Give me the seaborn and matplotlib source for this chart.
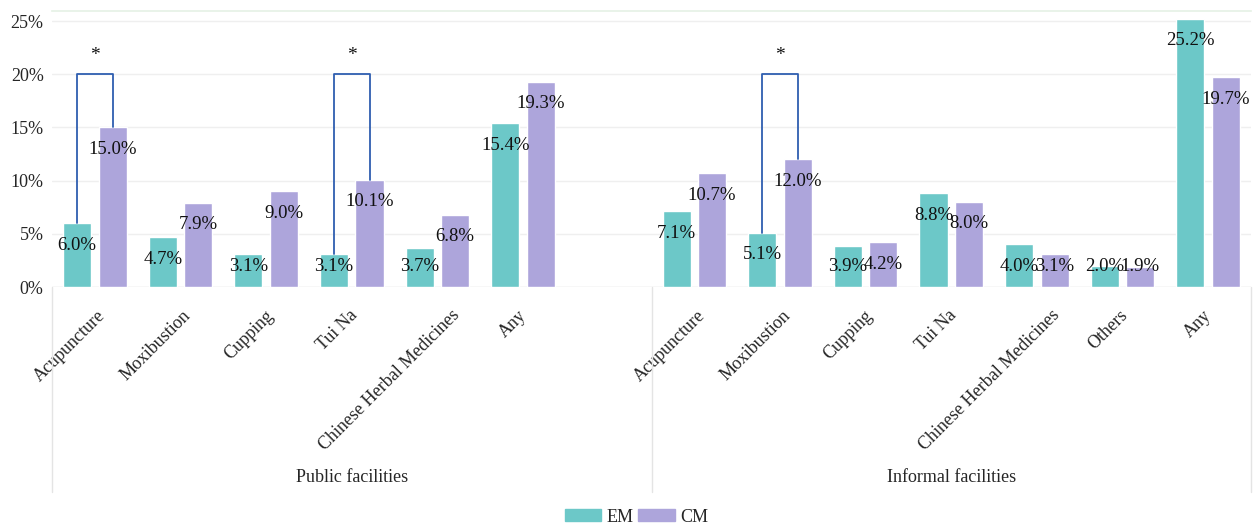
import matplotlib
matplotlib.use("Agg")
import matplotlib.pyplot as plt
import matplotlib.transforms as mtransforms
from matplotlib.patches import Patch
from matplotlib.lines import Line2D
import seaborn as sns
import pandas as pd

# ---- data ----
public_cats = ["Acupuncture", "Moxibustion", "Cupping", "Tui Na", "Chinese Herbal Medicines", "Any"]
public_em = [6.0, 4.7, 3.1, 3.1, 3.7, 15.4]
public_cm = [15.0, 7.9, 9.0, 10.1, 6.8, 19.3]
informal_cats = ["Acupuncture", "Moxibustion", "Cupping", "Tui Na", "Chinese Herbal Medicines", "Others", "Any"]
informal_em = [7.1, 5.1, 3.9, 8.8, 4.0, 2.0, 25.2]
informal_cm = [10.7, 12.0, 4.2, 8.0, 3.1, 1.9, 19.7]
group_labels = ["Public facilities", "Informal facilities"]
series_names = ["EM", "CM"]
# significant differences (group, category index)
significant = [("Public", 0), ("Public", 3), ("Informal", 1)]
bracket_level = 20.0

EM_COLOR = "#6cc8c8"
CM_COLOR = "#ada5db"
BRACKET_COLOR = "#2f5eb0"
FONT = ["Liberation Serif", "DejaVu Serif"]

sns.set_theme(style="white")
plt.rcParams["font.family"] = FONT
plt.rcParams["font.size"] = 13

rows = []
pub_keys = [f"Public|{c}" for c in public_cats]
inf_keys = [f"Informal|{c}" for c in informal_cats]
for k, e, c in zip(pub_keys, public_em, public_cm):
    rows.append((k, "EM", e)); rows.append((k, "CM", c))
for k, e, c in zip(inf_keys, informal_em, informal_cm):
    rows.append((k, "EM", e)); rows.append((k, "CM", c))
df = pd.DataFrame(rows, columns=["slot", "series", "value"])
order = pub_keys + ["gap"] + inf_keys
tick_labels = public_cats + [""] + informal_cats

fig = plt.figure(figsize=(12.55, 5.29), dpi=100)
ax = fig.add_axes([52 / 1255, 1 - 287 / 529, (1251 - 52) / 1255, 276 / 529])

sns.barplot(data=df, x="slot", y="value", hue="series", order=order,
            hue_order=series_names, palette=[EM_COLOR, CM_COLOR],
            width=0.83, gap=0.21, saturation=1, ax=ax, legend=False)

ax.set_xlim(-0.5, len(order) - 0.5)
ax.set_ylim(0, 25.94)
ax.set_yticks([0, 5, 10, 15, 20, 25])
ax.set_yticklabels([f"{t}%" for t in [0, 5, 10, 15, 20, 25]], fontsize=13)
ax.set_xlabel(""); ax.set_ylabel("")
ax.set_xticks(range(len(order)))
ax.set_xticklabels([""] * len(order))
ax.tick_params(axis="both", length=0, pad=6)
ax.yaxis.grid(True, color="#efefef", lw=1)
ax.set_axisbelow(True)
for s in ["left", "right", "bottom"]:
    ax.spines[s].set_visible(False)
ax.spines["top"].set_color("#e6f2e6")
ax.axhline(0, color="#e6e6e6", lw=1, zorder=0.5)

# rotated category labels (Excel-like placement: longer labels sit further right)
renderer = fig.canvas.get_renderer()
xtrans = mtransforms.blended_transform_factory(ax.transData, ax.transAxes)
for i, lab in enumerate(tick_labels):
    if not lab:
        continue
    t = ax.text(0, 0, lab, fontsize=13)
    w = t.get_window_extent(renderer).width
    t.remove()
    dx = 0.12 * w - 3
    off = mtransforms.ScaledTranslation(dx / 100, -26 / 100, fig.dpi_scale_trans)
    ax.text(i, 0, lab, transform=xtrans + off, rotation=45, ha="right",
            va="center", rotation_mode="anchor", fontsize=13, clip_on=False)

# value labels
bar_pos = {}
for ser, cont in zip(series_names, ax.containers):
    bars = sorted(cont.patches, key=lambda b: b.get_x())
    keys = [k for k in order if k != "gap"]
    for key, bar in zip(keys, bars):
        x = bar.get_x() + bar.get_width() / 2
        h = bar.get_height()
        bar_pos[(key, ser)] = (x, h)
        ax.text(x, max(h - 2.07, 1.88), f"{h:.1f}%", ha="center", va="center",
                fontsize=13.5, color="#111111", zorder=5)

# significance brackets
for grp, idx in significant:
    key = (pub_keys if grp == "Public" else inf_keys)[idx]
    x1, h1 = bar_pos[(key, "EM")]
    x2, h2 = bar_pos[(key, "CM")]
    ax.plot([x1, x1, x2, x2], [h1, bracket_level, bracket_level, h2],
            color=BRACKET_COLOR, lw=1.3, zorder=4)
    ax.text((x1 + x2) / 2, 21.8, "*", ha="center", va="center", fontsize=14, color="#111111")

# group labels and dividers
trans = mtransforms.blended_transform_factory(ax.transData, fig.transFigure)
n_pub = len(public_cats) + 1
ax.text((n_pub - 1) / 2, 1 - 478 / 529, group_labels[0], transform=trans,
        ha="center", va="center", fontsize=13)
ax.text(n_pub + (len(informal_cats) - 1) / 2, 1 - 478 / 529, group_labels[1], transform=trans,
        ha="center", va="center", fontsize=13)
for xd in [-0.5, n_pub - 0.5, len(order) - 0.5]:
    fig.add_artist(Line2D([xd, xd], [1 - 287 / 529, 1 - 492 / 529], transform=trans,
                          color="#e4e4e4", lw=1))

handles = [Patch(color=EM_COLOR, label="EM"), Patch(color=CM_COLOR, label="CM")]
fig.legend(handles=handles, loc="center", bbox_to_anchor=(0.507, 1 - 517 / 529), ncol=2,
           frameon=False, fontsize=13, handlelength=2.0, handleheight=0.65,
           columnspacing=0.3, handletextpad=0.3)

fig.savefig("out.png", dpi=100)
